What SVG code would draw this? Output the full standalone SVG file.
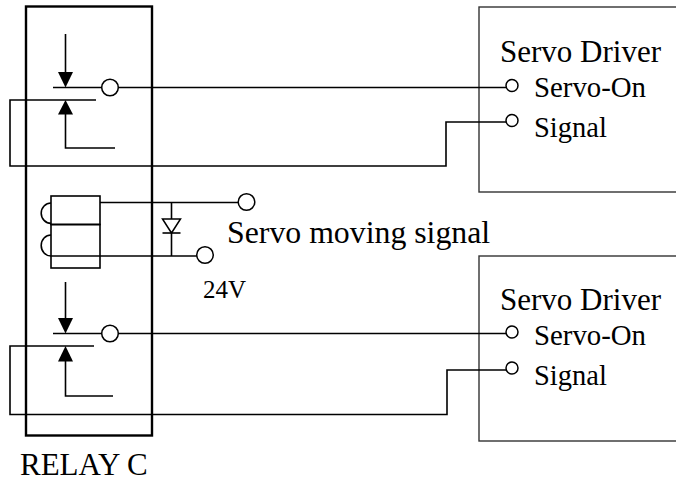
<svg xmlns="http://www.w3.org/2000/svg" width="676" height="481" viewBox="0 0 676 481">
<style>
.w{stroke:#000;stroke-width:1.6;fill:none}
.rb{stroke:#000;stroke-width:2.4;fill:none}
.drv{stroke:#333;stroke-width:1.4;fill:#fff}
.pin{fill:#fff;stroke:#000;stroke-width:1.5}
.ah{fill:#000;stroke:none}
text{font-family:'Liberation Serif','Times New Roman',serif;fill:#000}
</style>
<rect width="676" height="481" fill="#fff"/>
<g id="driver1">
<rect class="drv" x="479" y="7" width="210" height="185"/>
<text x="500" y="62" font-size="31">Servo Driver</text>
<text x="534" y="97" font-size="28.8">Servo-On</text>
<text x="534" y="137" font-size="28.5">Signal</text>
</g>
<g id="driver2">
<rect class="drv" x="479" y="256" width="210" height="185"/>
<text x="500" y="310" font-size="31">Servo Driver</text>
<text x="534" y="345" font-size="28.8">Servo-On</text>
<text x="534" y="385" font-size="28.5">Signal</text>
</g>
<g id="connectors">
<path class="w" d="M118,87.5 H506"/>
<path class="w" d="M96,100 H10 V166 H446 V122 H506"/>
<path class="w" d="M118,333.5 H506"/>
<path class="w" d="M94,346 H10 V414.5 H447 V370 H506"/>
<path class="w" d="M100,202.5 H238"/>
<path class="w" d="M51,256 H197"/>
</g>
<g id="relay">
<rect class="rb" x="26" y="6.5" width="126" height="429"/>
<text x="20" y="475" font-size="31">RELAY C</text>
</g>
<g id="contact1">
<path class="w" d="M65.5,34 V74"/>
<polygon class="ah" points="58,72 73,72 65.5,87.5"/>
<path class="w" d="M53,87.5 H102"/>
<polygon class="ah" points="65.5,100 58,114.5 73,114.5"/>
<path class="w" d="M65.5,113 V148 H115"/>
<circle class="pin" cx="110" cy="87.5" r="8.3"/>
</g>
<g id="contact2">
<path class="w" d="M65.5,282 V320"/>
<polygon class="ah" points="58,318 73,318 65.5,333.5"/>
<path class="w" d="M53,333.5 H102"/>
<polygon class="ah" points="65.5,346 58,361.5 73,361.5"/>
<path class="w" d="M65.5,360 V396 H113"/>
<circle class="pin" cx="110" cy="333.5" r="8.3"/>
</g>
<g id="coil">
<rect class="w" x="51" y="196" width="49" height="28.5"/>
<rect class="w" x="51" y="224.5" width="49" height="43.5"/>
<path class="w" d="M51,203 A9.8,10.2 0 0 0 51,223.4"/>
<path class="w" d="M51,235 A9.8,10.5 0 0 0 51,256"/>
</g>
<g id="diode">
<path class="w" d="M171.5,202.5 V256"/>
<polygon points="162.5,219 180.5,219 171.5,233" fill="#fff" stroke="#000" stroke-width="1.5"/>
<path class="w" d="M162.5,233 H180.5"/>
</g>
<g id="terminals">
<circle class="pin" cx="246.5" cy="202" r="8.3"/>
<circle class="pin" cx="205" cy="255" r="8.3"/>
<circle class="pin" cx="512" cy="85.5" r="6"/>
<circle class="pin" cx="512" cy="120.5" r="6"/>
<circle class="pin" cx="512" cy="332" r="6"/>
<circle class="pin" cx="512" cy="368" r="6"/>
<text x="227" y="243" font-size="31.8">Servo moving signal</text>
<text x="203" y="298" font-size="25">24V</text>
</g>
</svg>
